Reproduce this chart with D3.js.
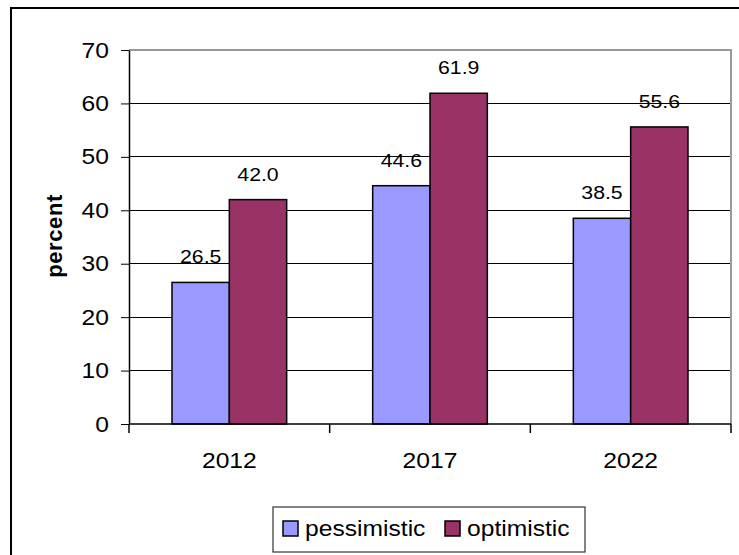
<!DOCTYPE html>
<html>
<head>
<meta charset="utf-8">
<script src="https://cdn.jsdelivr.net/npm/d3@7"></script>
<style>
  html, body { margin: 0; padding: 0; background: #fff; }
  svg { display: block; }
  text { font-family: "Liberation Sans", Arial, sans-serif; fill: #000; }
</style>
</head>
<body>
<svg id="chart" width="739" height="555"></svg>
<script>
// Survey results by year
const years = ["2012", "2017", "2022"];
const seriesNames = ["pessimistic", "optimistic"];
const pessimistic = [26.5, 44.6, 38.5];
const optimistic = [42.0, 61.9, 55.6];
const yTicks = [0, 10, 20, 30, 40, 50, 60, 70];
const colors = ["#9999FF", "#993366"];

// Horizontal text widening
const SX = 1.12;

const svg = d3.select("#chart");

// Plot area
const plot = { left: 129, right: 731, top: 50, bottom: 424 };

// Outer chart frame
svg.append("rect")
  .attr("x", 11).attr("y", 8)
  .attr("width", 760).attr("height", 580)
  .attr("fill", "#fff").attr("stroke", "#000").attr("stroke-width", 2);

const y = d3.scaleLinear().domain([0, 70]).range([plot.bottom, plot.top]);
const x = d3.scaleBand().domain(years).range([plot.left, plot.right]).paddingInner(0).paddingOuter(0);
// Bars take 2 of 3.5 bar-widths per category (gap width 150%)
const barW = x.step() / 3.5;
const xs = d3.scaleBand().domain(seriesNames)
  .range([barW * 0.75, barW * 2.75]).paddingInner(0).paddingOuter(0);

// Places a widened text label at (px, py)
function label(parent, px, py, str, size, anchor) {
  return parent.append("g")
    .attr("transform", `translate(${px},${py}) scale(${SX},1)`)
    .append("text")
    .attr("text-anchor", anchor || "start")
    .style("font-size", size + "px")
    .text(str);
}

// Gridlines
svg.append("g").selectAll("line")
  .data(yTicks.filter(t => t > 0 && t < 70))
  .join("line")
  .attr("x1", plot.left).attr("x2", plot.right)
  .attr("y1", d => y(d)).attr("y2", d => y(d))
  .attr("stroke", "#000").attr("stroke-width", 1).attr("shape-rendering", "crispEdges");

// Plot area border (top and right in grey)
svg.append("path")
  .attr("d", `M${plot.left},${y(70)}H${plot.right}V${plot.bottom}`)
  .attr("fill", "none").attr("stroke", "#999").attr("stroke-width", 2);

// Bars
const rows = years.map((yr, i) => ({ year: yr, values: [pessimistic[i], optimistic[i]] }));
const groups = svg.append("g").selectAll("g")
  .data(rows).join("g")
  .attr("transform", d => `translate(${x(d.year)},0)`);

groups.selectAll("rect")
  .data(d => d.values.map((v, j) => ({ name: seriesNames[j], value: v, color: colors[j] })))
  .join("rect")
  .attr("x", d => xs(d.name))
  .attr("width", xs.bandwidth())
  .attr("y", d => y(d.value))
  .attr("height", d => y(0) - y(d.value))
  .attr("fill", d => d.color)
  .attr("stroke", "#000").attr("stroke-width", 1.5);

// Value labels
groups.each(function (d) {
  const g = d3.select(this);
  d.values.forEach((v, j) => {
    label(g, xs(seriesNames[j]) + xs.bandwidth() / 2, y(v) - 19, v.toFixed(1), 19, "middle");
  });
});

// Y axis
const yAxis = svg.append("g")
  .attr("transform", `translate(${plot.left},0)`)
  .call(d3.axisLeft(y).tickValues(yTicks).tickSize(8).tickSizeOuter(0).tickPadding(20));
yAxis.select(".domain").attr("stroke", "#000").attr("stroke-width", 1.5);
yAxis.selectAll(".tick line").attr("stroke", "#000").attr("stroke-width", 1);
yAxis.selectAll(".tick text")
  .attr("transform", `translate(-20,0) scale(${SX},1)`)
  .attr("x", 0)
  .style("font-size", "22px")
  .attr("font-family", null).attr("fill", "#000");

// X axis: baseline, boundary ticks, category labels
svg.append("line")
  .attr("x1", plot.left).attr("x2", plot.right)
  .attr("y1", y(0)).attr("y2", y(0))
  .attr("stroke", "#000").attr("stroke-width", 1.5);

const bounds = years.map(d => x(d)).concat([x.range()[1]]);
svg.append("g").selectAll("line")
  .data(bounds).join("line")
  .attr("x1", d => d).attr("x2", d => d)
  .attr("y1", y(0)).attr("y2", y(0) + 9)
  .attr("stroke", "#000").attr("stroke-width", 1.5);

const xAxis = svg.append("g")
  .attr("transform", `translate(0,${y(0)})`)
  .call(d3.axisBottom(x).tickSize(0).tickPadding(28));
xAxis.select(".domain").remove();
xAxis.selectAll(".tick text")
  .attr("transform", `scale(${SX},1)`)
  .style("font-size", "22px")
  .attr("font-family", null).attr("fill", "#000");

// Y axis title
svg.append("text")
  .attr("transform", `translate(62,${(plot.top + plot.bottom) / 2 - 1}) rotate(-90)`)
  .attr("text-anchor", "middle")
  .style("font-size", "22px").style("font-weight", "bold").style("letter-spacing", "0.6px")
  .text("percent");

// Legend
const legend = svg.append("g");
legend.append("rect")
  .attr("x", 273).attr("y", 507).attr("width", 312).attr("height", 45)
  .attr("fill", "#fff").attr("stroke", "#333").attr("stroke-width", 1.2);

const legendX = [283, 445];
seriesNames.forEach((name, i) => {
  legend.append("rect")
    .attr("x", legendX[i]).attr("y", 521).attr("width", 15).attr("height", 15)
    .attr("fill", colors[i]).attr("stroke", "#000").attr("stroke-width", 1.5);
  label(legend, legendX[i] + 22, 536, name, 22, "start");
});
</script>
</body>
</html>
